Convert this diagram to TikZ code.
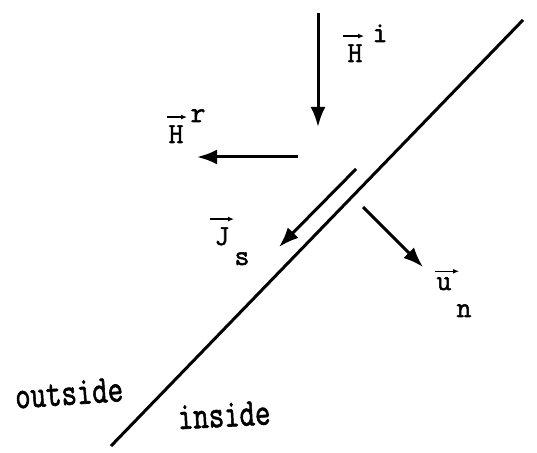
\documentclass[tikz,border=0pt]{standalone}
\usepackage{fontspec}
\usepackage{graphicx}
\newfontfamily\twfont[FakeBold=1.8]{Latin Modern Mono}
\usetikzlibrary{arrows.meta}
\newcommand{\tw}[1]{\scalebox{1}[1.3]{\twfont #1}}
\begin{document}
\begin{tikzpicture}[x=1pt,y=1pt,
  vecarrow/.style={line width=3pt,-{Latex[length=20pt,width=15pt]}},
  overarrow/.style={line width=1.3pt,-{Latex[length=6pt,width=5pt]}},
  wall/.style={line width=3pt},
  lbl/.style={inner sep=0pt,anchor=base,font=\fontsize{29}{30}\selectfont\twfont},
  side/.style={inner sep=0pt,font=\fontsize{30}{32}\selectfont}]
\useasboundingbox (0,0) rectangle (537,452);
% surface
\coordinate (w1) at (111,6);
\coordinate (w2) at (523,432);
\draw[wall] (w1) -- (w2);
% incident field
\coordinate (hi1) at (318,439);
\coordinate (hi2) at (318,325);
\draw[vecarrow] (hi1) -- (hi2);
% reflected field
\coordinate (hr1) at (298,295);
\coordinate (hr2) at (197,295);
\draw[vecarrow] (hr1) -- (hr2);
% surface current
\coordinate (js1) at (356,283);
\coordinate (js2) at (279,205);
\draw[vecarrow] (js1) -- (js2);
% normal
\coordinate (un1) at (363,245);
\coordinate (un2) at (423,185);
\draw[vecarrow] (un1) -- (un2);
% labels
\node[lbl] (Hi) at (355,390) {H};
\node[lbl] (Hisup) at (380,410) {i};
\node[lbl] (Hr) at (176,309) {H};
\node[lbl] (Hrsup) at (198,330) {r};
\node[lbl] (Js) at (222,207) {J};
\node[lbl] (Jssub) at (242,187) {s};
\node[lbl] (un) at (444,162) {u};
\node[lbl] (unsub) at (464,135) {n};
% vector marks
\draw[overarrow] ([shift={(-12pt,8pt)}]Hi.north) -- ([shift={(9pt,8pt)}]Hi.north);
\draw[overarrow] ([shift={(-9pt,8pt)}]Hr.north) -- ([shift={(11pt,8pt)}]Hr.north);
\draw[overarrow] ([shift={(-12pt,8pt)}]Js.north) -- ([shift={(12pt,8pt)}]Js.north);
\draw[overarrow] ([shift={(-9pt,6pt)}]un.north) -- ([shift={(15pt,6pt)}]un.north);
\node[side,rotate=4] (out) at (69,59) {\tw{outside}};
\node[side,rotate=3] (in) at (224,37) {\tw{inside}};
\end{tikzpicture}
\end{document}
